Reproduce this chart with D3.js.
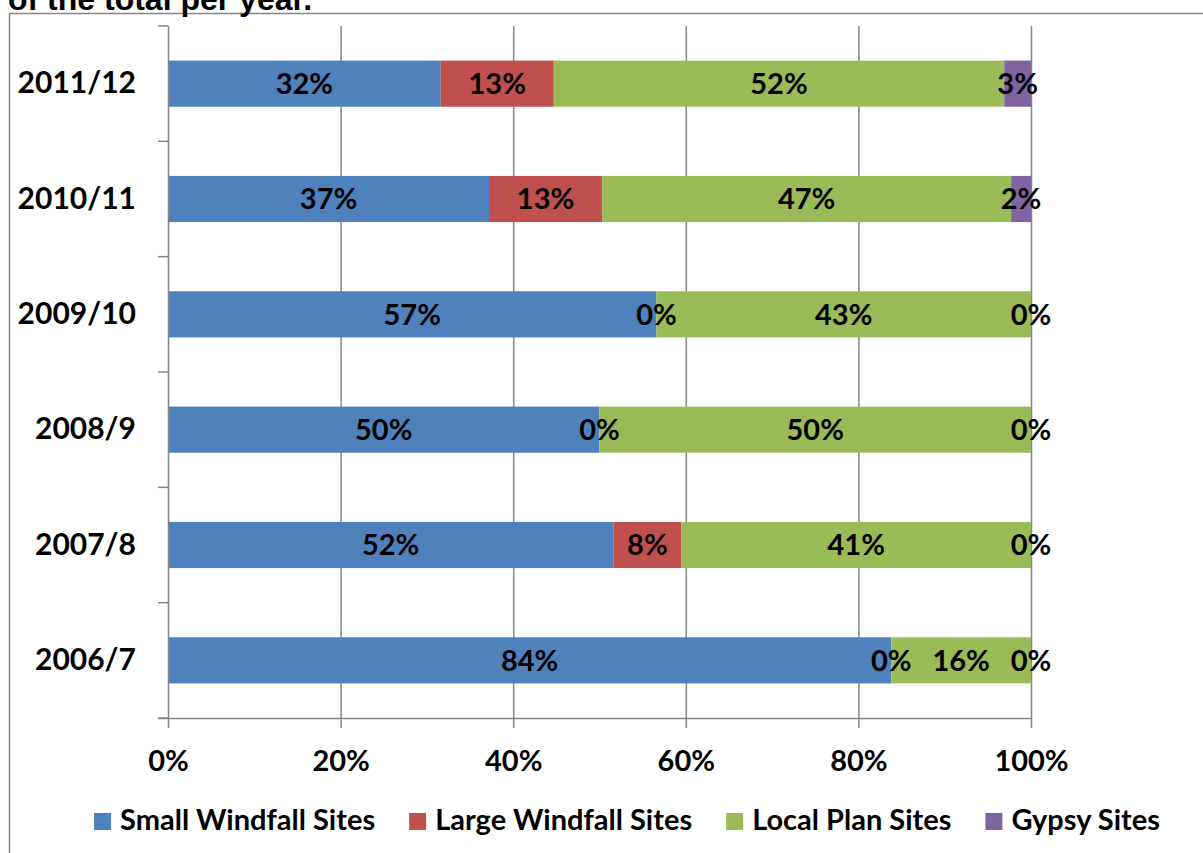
<!DOCTYPE html>
<html>
<head>
<meta charset="utf-8">
<script src="https://cdn.jsdelivr.net/npm/d3@7/dist/d3.min.js"></script>
<style>
  html, body { margin: 0; padding: 0; background: #fff; }
  svg { display: block; }
  text { font-family: Lato, "Open Sans", sans-serif; font-weight: bold; fill: #000; }
</style>
</head>
<body>
<svg id="chart" width="1203" height="853"></svg>
<script>
// Housing completions by site type, share of the total per year
const years = ["2011/12", "2010/11", "2009/10", "2008/9", "2007/8", "2006/7"];
const seriesNames = ["Small Windfall Sites", "Large Windfall Sites", "Local Plan Sites", "Gypsy Sites"];
const seriesColors = ["#4F81BD", "#C0504D", "#9BBB59", "#8064A2"];
const smallWindfall = [0.316, 0.372, 0.566, 0.500, 0.516, 0.838];
const largeWindfall = [0.131, 0.131, 0.000, 0.000, 0.079, 0.000];
const localPlan     = [0.522, 0.474, 0.434, 0.500, 0.405, 0.162];
const gypsy         = [0.031, 0.023, 0.000, 0.000, 0.000, 0.000];
const xTickValues = [0, 0.2, 0.4, 0.6, 0.8, 1.0];

const seriesValues = [smallWindfall, largeWindfall, localPlan, gypsy];
const rows = years.map((yr, i) => {
  const r = { year: yr };
  seriesNames.forEach((s, k) => { r[s] = seriesValues[k][i]; });
  return r;
});

const svg = d3.select("#chart");
const gridColor = "#868686";
const pct = d3.format(".0%");
const labelSize = "29px";

// chart frame (extends past the visible page)
svg.append("rect")
  .attr("x", 9.5).attr("y", 13.5)
  .attr("width", 1300).attr("height", 900)
  .attr("fill", "none").attr("stroke", gridColor).attr("stroke-width", 1.5);

// cut-off title line above the frame
svg.append("text")
  .attr("x", 8).attr("y", 10)
  .style("font-family", "'Liberation Sans', Arial, sans-serif")
  .style("font-size", "32px")
  .text("of the total per year.");

const plotLeft = 168, plotRight = 1031, plotTop = 26, plotBottom = 718;
const x = d3.scaleLinear().domain([0, 1]).range([plotLeft, plotRight]);
const y = d3.scaleBand().domain(years).range([plotTop, plotBottom]).paddingInner(0.6).paddingOuter(0.3);

// vertical gridlines
svg.append("g").selectAll("line")
  .data(xTickValues.slice(1))
  .join("line")
  .attr("x1", d => x(d) + 0.5).attr("x2", d => x(d) + 0.5)
  .attr("y1", plotTop).attr("y2", plotBottom)
  .attr("stroke", gridColor).attr("stroke-width", 1.5);

// stacked bars
const stack = d3.stack().keys(seriesNames);
const layers = stack(rows);

const layerG = svg.append("g").selectAll("g")
  .data(layers)
  .join("g")
  .attr("fill", (d, i) => seriesColors[i]);

layerG.selectAll("rect")
  .data(d => d)
  .join("rect")
  .attr("x", d => x(d[0]))
  .attr("y", d => y(d.data.year))
  .attr("width", d => x(d[1]) - x(d[0]))
  .attr("height", y.bandwidth());

// x axis
const xAxis = d3.axisBottom(x)
  .tickValues(xTickValues)
  .tickFormat(pct)
  .tickSize(10)
  .tickSizeOuter(0)
  .tickPadding(22);

const gx = svg.append("g")
  .attr("transform", `translate(0,${plotBottom})`)
  .call(xAxis);
gx.select(".domain").attr("stroke", gridColor).attr("stroke-width", 1.5)
  .attr("d", `M${plotLeft - 10},0.5H${plotRight}`);
gx.selectAll(".tick line").attr("stroke", gridColor).attr("stroke-width", 1.5);
gx.selectAll(".tick text")
  .style("font-size", labelSize).style("font-family", "Lato, sans-serif")
  .style("font-weight", "bold").attr("fill", "#000");

// y axis
const yAxis = d3.axisLeft(y).tickSize(0).tickPadding(32);
const gy = svg.append("g")
  .attr("transform", `translate(${plotLeft},0)`)
  .call(yAxis);
gy.select(".domain").attr("stroke", gridColor).attr("stroke-width", 1.5)
  .attr("d", `M0.5,${plotTop}V${plotBottom}`);
gy.selectAll(".tick text")
  .style("font-size", "30px").style("font-family", "Lato, sans-serif")
  .style("font-weight", "bold").attr("fill", "#000");

// category boundary tick marks
const step = y.step();
const boundaries = d3.range(years.length + 1).map(i => plotTop + i * step);
svg.append("g").selectAll("line")
  .data(boundaries)
  .join("line")
  .attr("x1", plotLeft - 10).attr("x2", plotLeft)
  .attr("y1", d => d).attr("y2", d => d)
  .attr("stroke", gridColor).attr("stroke-width", 1.5);

// data labels
const labelG = svg.append("g");
layers.forEach(layer => {
  labelG.selectAll(null)
    .data(layer)
    .join("text")
    .attr("x", d => x((d[0] + d[1]) / 2))
    .attr("y", d => y(d.data.year) + y.bandwidth() / 2)
    .attr("dy", "0.36em")
    .attr("text-anchor", "middle")
    .style("font-size", labelSize)
    .text(d => pct(d[1] - d[0]));
});

// legend
const legend = svg.append("g");
const items = legend.selectAll("g")
  .data(seriesNames)
  .join("g");
items.append("rect")
  .attr("width", 17).attr("height", 17)
  .attr("y", -17)
  .attr("fill", (d, i) => seriesColors[i]);
items.append("text")
  .attr("x", 26)
  .style("font-size", labelSize)
  .text(d => d);

const widths = [];
items.each(function () { widths.push(this.getBBox().width); });
const gap = 34;
const total = d3.sum(widths) + gap * (widths.length - 1);
let cx = 627 - total / 2;
items.attr("transform", (d, i) => {
  const t = `translate(${cx},${830})`;
  cx += widths[i] + gap;
  return t;
});
</script>
</body>
</html>
